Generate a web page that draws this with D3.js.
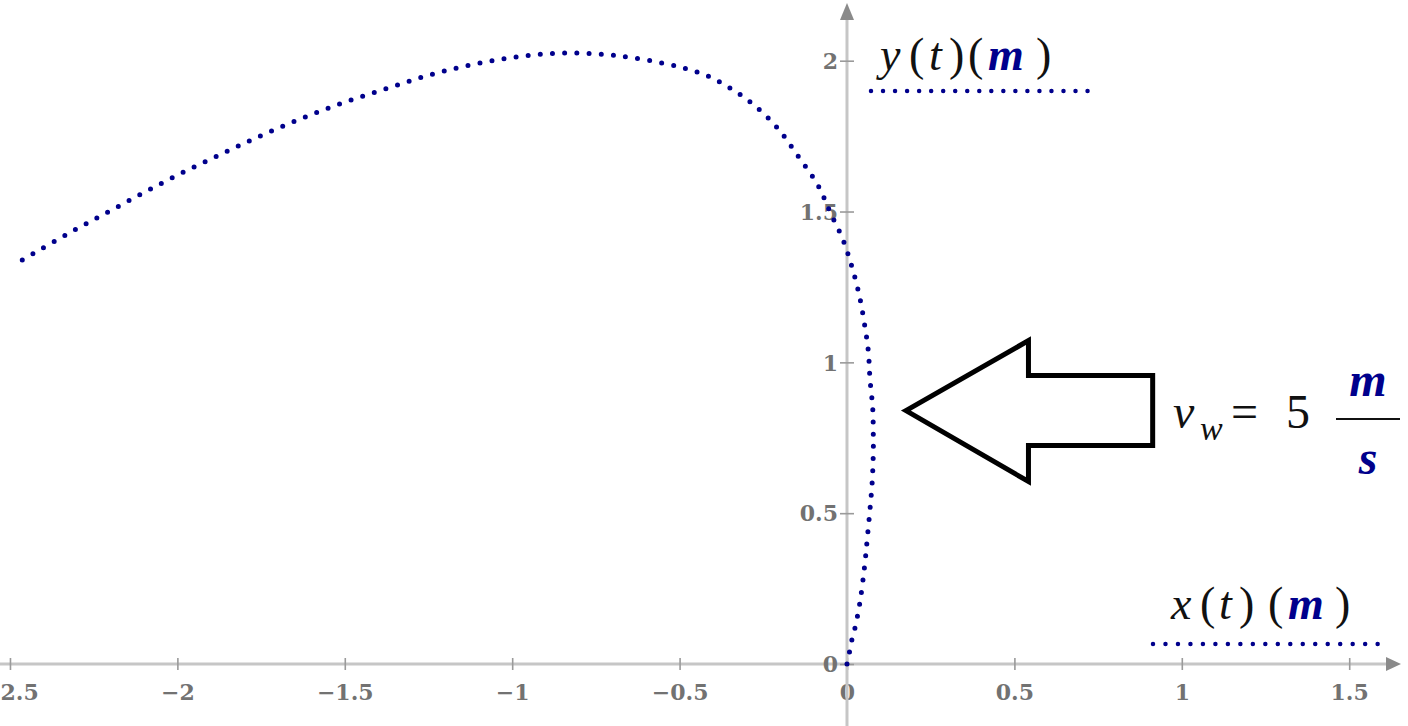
<!DOCTYPE html>
<html>
<head>
<meta charset="utf-8">
<script src="https://cdn.jsdelivr.net/npm/d3@7"></script>
<style>
  html, body { margin: 0; padding: 0; background: #fff; }
  svg { display: block; }
</style>
</head>
<body>
<svg id="chart" width="1408" height="726"></svg>
<script>
// ---- data (chronological: launch at origin, blown left by the wind) ----
const trajX = [0, 0.007, 0.014, 0.024, 0.038, 0.050, 0.0567, 0.0606, 0.0687, 0.0756, 0.0786, 0.0786, 0.0768, 0.0687, 0.0636, 0.0517, 0.0358, 0.014, -0.0128, -0.0508, -0.0857, -0.15, -0.21, -0.28, -0.35, -0.424, -0.510, -0.683, -0.861, -1.034, -1.209, -1.375, -1.542, -1.706, -1.864, -2.024, -2.178, -2.331, -2.485];
const trajY = [0, 0.037, 0.077, 0.12, 0.20, 0.30, 0.369, 0.417, 0.513, 0.610, 0.704, 0.754, 0.848, 0.944, 1.038, 1.131, 1.227, 1.319, 1.409, 1.499, 1.585, 1.69, 1.78, 1.855, 1.91, 1.953, 1.982, 2.016, 2.025, 2.005, 1.964, 1.908, 1.846, 1.773, 1.693, 1.607, 1.516, 1.424, 1.325];
const xTicks = [-2.5, -2, -1.5, -1, -0.5, 0, 0.5, 1, 1.5];
const yTicks = [0, 0.5, 1, 1.5, 2];
const xTickLabels = ["\u22122.5", "\u22122", "\u22121.5", "\u22121", "\u22120.5", "0", "0.5", "1", "1.5"];
const yTickLabels = ["0", "0.5", "1", "1.5", "2"];
const windSpeed = 5;

// ---- layout ----
const W = 1408, H = 726;
const svg = d3.select("#chart");
const x = d3.scaleLinear().domain([-2.5298, 1.6756]).range([0, W]);
const y = d3.scaleLinear().domain([-0.2055, 2.2012]).range([H, 0]);

const axisCol = "#c6c6c6", tickCol = "#9a9a9a", labelCol = "#727272";
const navy = "#00008c";
const tickFont = "'DejaVu Serif', serif";

// ---- axes ----
const gx = svg.append("g").attr("transform", `translate(0,${y(0)})`);
gx.append("line").attr("x1", 0).attr("x2", W - 20).attr("y1", 0).attr("y2", 0)
  .attr("stroke", axisCol).attr("stroke-width", 3);
gx.append("path").attr("d", `M${W - 22},-7 L${W - 7},0 L${W - 22},7 Z`).attr("fill", "#8a8a8a");
const xAxis = d3.axisBottom(x).tickValues(xTicks).tickSize(0)
  .tickFormat((d, i) => xTickLabels[i]);
const gxa = gx.append("g").call(xAxis);
gxa.select(".domain").remove();
gxa.selectAll(".tick").append("line").attr("y1", -6).attr("y2", 6)
  .attr("stroke", tickCol).attr("stroke-width", 1.6);
gxa.selectAll(".tick text").attr("y", 20).attr("dy", "0.71em")
  .attr("fill", labelCol).attr("font-family", tickFont)
  .attr("font-weight", "bold").attr("font-size", 22);

const gy = svg.append("g").attr("transform", `translate(${x(0)},0)`);
gy.append("line").attr("x1", 0).attr("x2", 0).attr("y1", H).attr("y2", 18)
  .attr("stroke", axisCol).attr("stroke-width", 3);
gy.append("path").attr("d", `M-7,20 L0,3 L7,20 Z`).attr("fill", "#8a8a8a");
const yAxis = d3.axisLeft(y).tickValues(yTicks).tickSize(0)
  .tickFormat((d, i) => yTickLabels[i]);
const gya = gy.append("g").call(yAxis);
gya.select(".domain").remove();
gya.selectAll(".tick").append("line").attr("x1", -7).attr("x2", 7)
  .attr("stroke", tickCol).attr("stroke-width", 1.6);
gya.selectAll(".tick text").attr("x", -9).attr("dy", "0.35em")
  .attr("fill", labelCol).attr("font-family", tickFont)
  .attr("font-weight", "bold").attr("font-size", 22);

// ---- trajectory ----
const pts = trajX.map((v, i) => [v, trajY[i]]);
const line = d3.line().x(d => x(d[0])).y(d => y(d[1])).curve(d3.curveCatmullRom);
svg.append("path").datum(pts).attr("d", line)
  .attr("fill", "none").attr("stroke", navy).attr("stroke-width", 5)
  .attr("stroke-linecap", "round").attr("stroke-dasharray", "0 12.2");

// ---- legends ----
const mathFont = "'Liberation Serif', 'DejaVu Serif', serif";
function legendText(g, parts) {
  const t = g.append("text").attr("font-family", mathFont).attr("font-size", 46)
    .attr("font-style", "italic").attr("fill", "#111");
  parts.forEach(p => {
    t.append("tspan").attr("x", p.x).text(p.s)
      .attr("fill", p.blue ? navy : "#111")
      .attr("font-weight", p.blue ? "bold" : "normal")
      .attr("font-style", p.up ? "normal" : "italic");
  });
  return t;
}
// y(t) legend
const gyLeg = svg.append("g");
legendText(gyLeg, [
  {s: "y", x: 880}, {s: "(", x: 909, up: true}, {s: "t", x: 929}, {s: ")", x: 949, up: true},
  {s: "(", x: 968, up: true}, {s: "m", x: 988, blue: true}, {s: ")", x: 1036, up: true}
]).attr("y", 70);
gyLeg.append("line").attr("x1", 871).attr("x2", 1088).attr("y1", 91).attr("y2", 91)
  .attr("stroke", navy).attr("stroke-width", 4.5).attr("stroke-linecap", "round")
  .attr("stroke-dasharray", "0 12.03");
// x(t) legend
const gxLeg = svg.append("g");
legendText(gxLeg, [
  {s: "x", x: 1171}, {s: "(", x: 1200, up: true}, {s: "t", x: 1219}, {s: ")", x: 1239, up: true},
  {s: "(", x: 1268, up: true}, {s: "m", x: 1288, blue: true}, {s: ")", x: 1335, up: true}
]).attr("y", 619);
gxLeg.append("line").attr("x1", 1153).attr("x2", 1378).attr("y1", 644).attr("y2", 644)
  .attr("stroke", navy).attr("stroke-width", 4.5).attr("stroke-linecap", "round")
  .attr("stroke-dasharray", "0 12.48");

// ---- wind arrow annotation ----
const arrowPts = [[0.176, 0.84], [0.542, 1.072], [0.542, 0.956], [0.913, 0.956], [0.913, 0.724], [0.542, 0.724], [0.542, 0.605]];
svg.append("polygon")
  .attr("points", arrowPts.map(p => `${x(p[0])},${y(p[1])}`).join(" "))
  .attr("fill", "#fff").attr("stroke", "#000").attr("stroke-width", 5)
  .attr("stroke-linejoin", "miter");

const ann = svg.append("g").attr("font-family", mathFont).attr("fill", "#111");
ann.append("text").attr("x", 1173).attr("y", 428).attr("font-size", 48).attr("font-style", "italic").text("v");
ann.append("text").attr("x", 1200).attr("y", 440).attr("font-size", 34).attr("font-style", "italic").text("w");
ann.append("text").attr("x", 1231).attr("y", 428).attr("font-size", 48).text("=");
ann.append("text").attr("x", 1286).attr("y", 428).attr("font-size", 48).text(windSpeed);
ann.append("text").attr("x", 1368).attr("y", 396).attr("font-size", 48).attr("text-anchor", "middle")
  .attr("font-style", "italic").attr("font-weight", "bold").attr("fill", navy).text("m");
ann.append("line").attr("x1", 1336).attr("x2", 1400).attr("y1", 419).attr("y2", 419)
  .attr("stroke", "#111").attr("stroke-width", 2.2);
ann.append("text").attr("x", 1368).attr("y", 474).attr("font-size", 48).attr("text-anchor", "middle")
  .attr("font-style", "italic").attr("font-weight", "bold").attr("fill", navy).text("s");
</script>
</body>
</html>
